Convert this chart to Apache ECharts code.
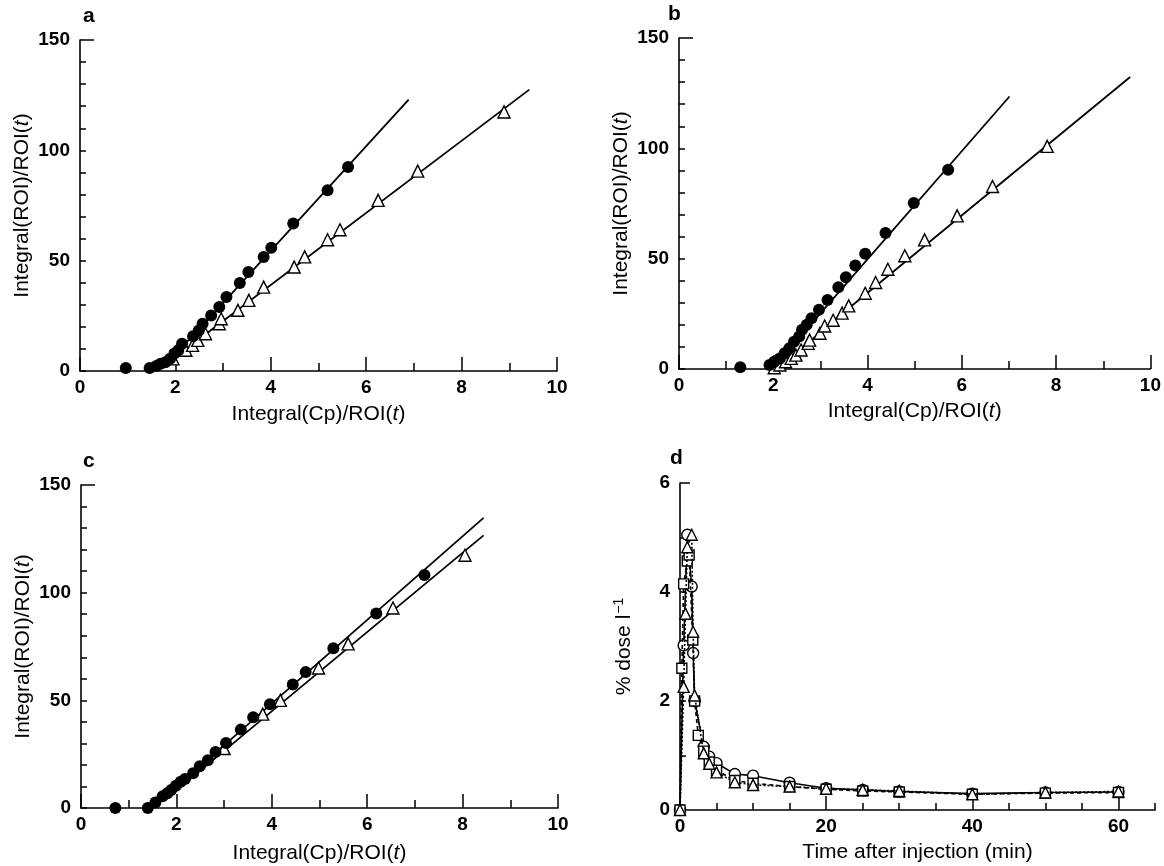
<!DOCTYPE html>
<html>
<head>
<meta charset="utf-8">
<script src="https://cdn.jsdelivr.net/npm/echarts@6/dist/echarts.min.js"></script>
<style>html,body{margin:0;padding:0;background:#fff}#c{width:1164px;height:866px}</style>
</head>
<body>
<div id="c"></div>
<script>
// ---- Panel a ----
const aCircles = [[0.96,1.4],[1.46,1.4],[1.6,2.3],[1.69,3.3],[1.79,4.0],[1.89,5.6],[1.98,7.9],[2.06,9.4],[2.14,12.4],[2.37,15.7],[2.49,18.4],[2.57,21.4],[2.75,25.2],[2.92,29.0],[3.07,33.5],[3.35,39.9],[3.53,44.9],[3.85,51.7],[4.01,55.9],[4.47,66.8],[5.19,81.9],[5.62,92.4]];
const aTriangles = [[1.95,5.5],[2.22,9.4],[2.36,11.6],[2.47,13.9],[2.63,16.9],[2.92,21.4],[2.96,23.7],[3.31,27.5],[3.54,32.0],[3.85,38.0],[4.49,47.1],[4.71,51.7],[5.19,59.5],[5.45,64.0],[6.25,77.3],[7.08,90.6],[8.89,117.4]];
const aCircleFit = [[1.45,0],[1.8,4],[2.1,10],[2.5,19],[6.89,123]];
const aTriangleFit = [[1.5,0],[2.0,6],[2.5,14.5],[9.42,127.5]];
// ---- Panel b ----
const bCircles = [[1.30,0.8],[1.92,1.8],[2.02,3.3],[2.14,4.8],[2.24,7.1],[2.34,9.4],[2.44,12.4],[2.55,14.7],[2.61,17.8],[2.71,20.0],[2.81,23.0],[2.97,26.8],[3.15,31.3],[3.38,37.1],[3.54,41.6],[3.74,46.9],[3.95,52.2],[4.38,61.6],[4.98,75.2],[5.71,90.3]];
const bTriangles = [[2.02,0.6],[2.14,1.8],[2.26,3.3],[2.38,4.8],[2.48,6.3],[2.59,8.6],[2.74,11.6],[2.77,13.1],[2.99,16.2],[3.09,19.5],[3.27,22.1],[3.46,25.3],[3.60,28.6],[3.95,34.3],[4.17,39.2],[4.43,45.2],[4.79,51.3],[5.21,58.5],[5.90,69.4],[6.65,82.7],[7.81,100.9]];
const bCircleFit = [[1.95,0],[2.2,5],[2.6,15.5],[7.01,123.5]];
const bTriangleFit = [[2.0,0],[2.5,6.5],[3.0,17],[9.57,132.3]];
// ---- Panel c ----
const cCircles = [[0.72,0],[1.40,0],[1.56,2.6],[1.71,5.4],[1.81,6.9],[1.89,8.4],[1.99,10.3],[2.09,12.2],[2.18,13.5],[2.35,16.1],[2.49,19.4],[2.66,22.2],[2.82,26.0],[3.04,30.2],[3.35,36.4],[3.61,42.1],[3.96,48.2],[4.44,57.4],[4.71,63.1],[5.29,74.2],[6.19,90.3],[7.20,108.2]];
const cTriangles = [[3.0,27.6],[3.81,43.6],[4.18,50.0],[4.98,65.0],[5.60,76.2],[6.54,92.9],[8.05,117.4]];
const cCircleFit = [[1.4,0],[1.8,6.5],[2.3,15.5],[8.44,134.7]];
const cTriangleFit = [[1.45,0],[1.9,7],[2.4,15.5],[8.44,126.6]];
// ---- Panel d ----
const dCircles = [[0,0],[0.5,3.02],[1.0,5.05],[1.6,4.1],[1.8,2.88],[2.0,2.0],[3.25,1.16],[4.0,0.98],[5.0,0.86],[7.5,0.66],[10,0.63],[15,0.5],[20,0.40],[25,0.37],[30,0.34],[40,0.30],[50,0.32],[60,0.33]];
const dSquares = [[0,0],[0.25,2.6],[0.5,4.15],[1.0,4.57],[1.25,4.68],[1.75,3.12],[2.0,2.0],[2.5,1.37],[3.25,1.08],[4.0,0.88],[5.0,0.73],[7.5,0.54],[10,0.49],[15,0.43],[20,0.38],[25,0.35],[30,0.33],[40,0.29],[50,0.31],[60,0.32]];
const dTriangles = [[0,0],[0.5,2.26],[0.75,3.6],[1.0,4.82],[1.6,5.05],[1.8,3.27],[2.0,2.1],[3.25,1.04],[4.0,0.85],[5.0,0.69],[7.5,0.51],[10,0.46],[15,0.43],[20,0.39],[25,0.37],[30,0.35],[40,0.29],[50,0.32],[60,0.34]];

const xTitleABC = 'Integral(Cp)/ROI({it|t})';
const yTitleABC = 'Integral(ROI)/ROI({it|t})';
const xTitleD = 'Time after injection (min)';
const yTitleD = '% dose l{sup|\u22121}';
const panelLetters = ['a','b','c','d'];

const FONT = 'Liberation Sans, Arial, sans-serif';
const NFONT = 'Liberation Sans Narrow, Liberation Sans, Arial, sans-serif';
const BLK = '#000';
const grids = [
  {left:80, top:40, width:477, height:331},
  {left:679, top:38, width:472, height:331},
  {left:81, top:485, width:477, height:327},
  {left:680, top:483, width:475, height:327}
];
const letterPos = [[83,6],[668,4],[83,451],[670,448]];

const lab = {color:BLK, fontSize:19, fontWeight:'bold', fontFamily:NFONT};
const nameStyle = {color:BLK, fontSize:21, fontFamily:FONT, lineHeight:24,
  rich:{it:{fontStyle:'italic', fontSize:21, color:BLK, fontFamily:FONT, lineHeight:24},
        sup:{fontSize:14, color:BLK, fontFamily:FONT, verticalAlign:'top', lineHeight:24, padding:[0,0,10,1]}}};
const tickLS = {color:BLK, width:1.5};

const xAxes = [], yAxes = [];
for (let g = 0; g < 3; g++) {
  xAxes.push({gridIndex:g, type:'value', min:0, max:10, interval:2, position:'bottom',
    axisLine:{lineStyle:{color:BLK,width:1.6}},
    axisTick:{inside:true, length:14, lineStyle:tickLS},
    minorTick:{show:true, splitNumber:2, length:8, lineStyle:tickLS},
    splitLine:{show:false}, minorSplitLine:{show:false},
    axisLabel:Object.assign({margin:7}, lab),
    name:xTitleABC, nameLocation:'middle', nameGap:[31,30,33][g], nameTextStyle:nameStyle});
  yAxes.push({gridIndex:g, type:'value', min:0, max:150, interval:50, position:'left',
    axisLine:{lineStyle:{color:BLK,width:1.6}},
    axisTick:{inside:true, length:6, lineStyle:tickLS},
    minorTick:{show:true, splitNumber:5, length:6, lineStyle:tickLS},
    splitLine:{show:false}, minorSplitLine:{show:false},
    axisLabel:Object.assign({margin:10}, lab),
    name:yTitleABC, nameLocation:'middle', nameGap:[44,45,45][g], nameTextStyle:nameStyle});
  // top tick overlay
  yAxes.push({gridIndex:g, type:'value', min:0, max:150, position:'left',
    axisLine:{show:false}, axisLabel:{show:false}, splitLine:{show:false},
    axisTick:{show:true, inside:true, length:14, lineStyle:tickLS, customValues:[150]}});
}
// panel d
xAxes.push({gridIndex:3, type:'value', min:0, max:65, position:'bottom',
  axisLine:{lineStyle:{color:BLK,width:1.6}},
  axisTick:{inside:true, length:14, lineStyle:tickLS, customValues:[20,40,60]},
  splitLine:{show:false},
  axisLabel:Object.assign({margin:7, customValues:[0,20,40,60]}, lab),
  name:xTitleD, nameLocation:'middle', nameGap:30, nameTextStyle:nameStyle});
xAxes.push({gridIndex:3, type:'value', min:0, max:65, position:'bottom',
  axisLine:{show:false}, axisLabel:{show:false}, splitLine:{show:false},
  axisTick:{inside:true, length:7, lineStyle:tickLS, customValues:[5,10,15,25,30,35,45,50,55,65]}});
yAxes.push({gridIndex:3, type:'value', min:0, max:6, interval:2, position:'left',
  axisLine:{lineStyle:{color:BLK,width:1.6}},
  axisTick:{inside:true, length:6, lineStyle:tickLS},
  minorTick:{show:true, splitNumber:2, length:6, lineStyle:tickLS},
  splitLine:{show:false}, minorSplitLine:{show:false},
  axisLabel:Object.assign({margin:10}, lab),
  name:yTitleD, nameLocation:'middle', nameGap:44, nameTextStyle:nameStyle});
yAxes.push({gridIndex:3, type:'value', min:0, max:6, position:'left',
  axisLine:{show:false}, axisLabel:{show:false}, splitLine:{show:false},
  axisTick:{show:true, inside:true, length:10, lineStyle:tickLS, customValues:[6]}});

const series = [];
function fit(g, data) {
  series.push({type:'line', xAxisIndex:g, yAxisIndex:g*2, data:data, showSymbol:false, silent:true,
    lineStyle:{color:BLK, width:1.8}, z:2});
}
function dots(g, data) {
  series.push({type:'scatter', xAxisIndex:g, yAxisIndex:g*2, data:data, symbol:'circle', symbolSize:12,
    itemStyle:{color:BLK, opacity:1}, z:4});
}
function tris(g, data) {
  series.push({type:'scatter', xAxisIndex:g, yAxisIndex:g*2, data:data, symbol:'triangle', symbolSize:12,
    itemStyle:{color:'#fff', borderColor:BLK, borderWidth:1.4, opacity:1}, z:3});
}
fit(0, aCircleFit); fit(0, aTriangleFit); tris(0, aTriangles); dots(0, aCircles);
fit(1, bCircleFit); fit(1, bTriangleFit); tris(1, bTriangles); dots(1, bCircles);
fit(2, cCircleFit); fit(2, cTriangleFit); tris(2, cTriangles); dots(2, cCircles);

function dline(data, sym, size, dash, z) {
  series.push({type:'line', xAxisIndex:3, yAxisIndex:6, data:data, symbol:sym, symbolSize:size,
    showSymbol:true, showAllSymbol:true,
    lineStyle:{color:BLK, width:1.6, type:dash},
    itemStyle:{color:'#fff', borderColor:BLK, borderWidth:1.4}, z:z});
}
dline(dCircles, 'circle', 11, 'solid', 3);
dline(dSquares, 'rect', 10, [4,3], 4);
dline(dTriangles, 'triangle', 11, [2,2], 5);

const graphic = panelLetters.map((t,i) => ({type:'text', left:letterPos[i][0], top:letterPos[i][1],
  style:{text:t, font:'bold 21px ' + FONT, fill:BLK}}));

const chart = echarts.init(document.getElementById('c'), null, {renderer:'canvas'});
chart.setOption({
  animation:false,
  backgroundColor:'#fff',
  grid:grids,
  xAxis:xAxes,
  yAxis:yAxes,
  series:series,
  graphic:graphic
});
</script>
</body>
</html>
